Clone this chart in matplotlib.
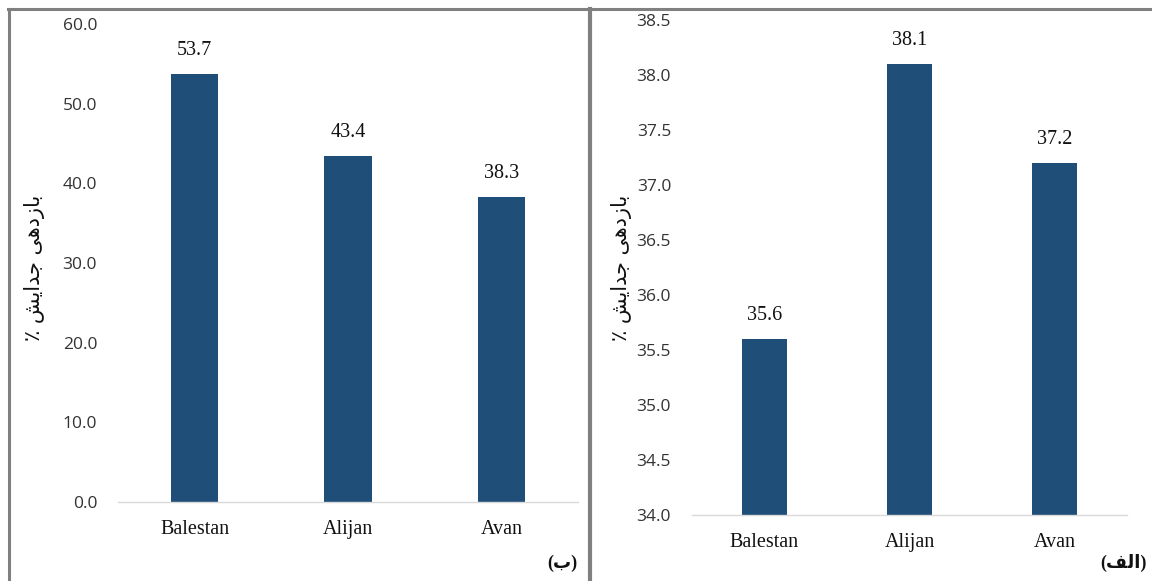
import matplotlib
matplotlib.use("Agg")
import matplotlib.pyplot as plt
from matplotlib.lines import Line2D

# Data
categories = ["Balestan", "Alijan", "Avan"]
values_b = [53.7, 43.4, 38.3]
values_alef = [35.6, 38.1, 37.2]
ticks_b = [0.0, 10.0, 20.0, 30.0, 40.0, 50.0, 60.0]
ticks_alef = [34.0, 34.5, 35.0, 35.5, 36.0, 36.5, 37.0, 37.5, 38.0, 38.5]

# Persian strings pre-shaped in visual (left-to-right) order
ylabel_text = "\u066A \uFEB6\uFEF3\uFE8D\uFEAA\uFE9F \uFEF0\uFEEB\uFEA9\uFEAF\uFE8E\uFE91"
panel_b = "(\uFE8F)"
panel_alef = "(\uFED2\uFEDF\uFE8D)"

BAR_COLOR = "#1F4E79"
SANS = ["Open Sans", "DejaVu Sans"]
SERIF = ["Liberation Serif", "DejaVu Serif"]

fig = plt.figure(figsize=(11.52, 5.81), dpi=100)
W, H = 1152, 581


def panel(rect, values, ticks, ylim):
    ax = fig.add_axes([rect[0] / W, 1 - rect[3] / H,
                       (rect[2] - rect[0]) / W, (rect[3] - rect[1]) / H])
    x = range(len(categories))
    bars = ax.bar(x, values, width=0.31, color=BAR_COLOR, zorder=2)
    ax.set_xlim(-0.5, len(categories) - 0.5)
    ax.set_ylim(*ylim)
    ax.set_yticks(ticks)
    ax.set_yticklabels([f"{t:.1f}" for t in ticks], family=SANS,
                       fontsize=12.5, color="#333333")
    ax.set_xticks(list(x))
    ax.set_xticklabels(categories, family=SERIF, fontsize=14.5, color="#111111")
    ax.tick_params(axis="both", length=0)
    ax.tick_params(axis="y", pad=15)
    ax.tick_params(axis="x", pad=13)
    for s in ("top", "right", "left"):
        ax.spines[s].set_visible(False)
    ax.spines["bottom"].set_color("#d9d9d9")
    ax.spines["bottom"].set_linewidth(1.0)
    for b, v in zip(bars, values):
        ax.annotate(f"{v:.1f}", (b.get_x() + b.get_width() / 2, v),
                    xytext=(0, 10), textcoords="offset points",
                    ha="center", va="bottom", family=SERIF,
                    fontsize=14.5, color="#111111")
    return ax


ax_b = panel((118, 24, 578, 502), values_b, ticks_b, (0, 60))
ax_a = panel((692, 20, 1127, 515), values_alef, ticks_alef, (34.0, 38.5))

fig.text(35 / W, 1 - 268 / H, ylabel_text, rotation=90, ha="center",
         va="center", family=["DejaVu Sans"], fontsize=15, color="#111111")
fig.text(622 / W, 1 - 268 / H, ylabel_text, rotation=90, ha="center",
         va="center", family=["DejaVu Sans"], fontsize=15, color="#111111")

fig.text(562 / W, 1 - 563 / H, panel_b, ha="center", va="center",
         family=SERIF + ["DejaVu Sans"], fontsize=13, fontweight="bold",
         color="#111111")
fig.text(1147 / W, 1 - 563 / H, panel_alef, ha="right", va="center",
         family=SERIF + ["DejaVu Sans"], fontsize=13, fontweight="bold",
         color="#111111")

# Frame lines around the two panels
gray = "#808080"
fig.add_artist(Line2D([8 / W, 1], [1 - 8.5 / H, 1 - 8.5 / H], color=gray,
                      lw=2.2, transform=fig.transFigure))
fig.add_artist(Line2D([8.5 / W, 8.5 / W], [0, 1 - 8.5 / H], color=gray,
                      lw=2.2, transform=fig.transFigure))
fig.add_artist(Line2D([590 / W, 590 / W], [0, 1 - 8.5 / H], color=gray,
                      lw=3.0, transform=fig.transFigure))

fig.savefig("out.png", dpi=100)
